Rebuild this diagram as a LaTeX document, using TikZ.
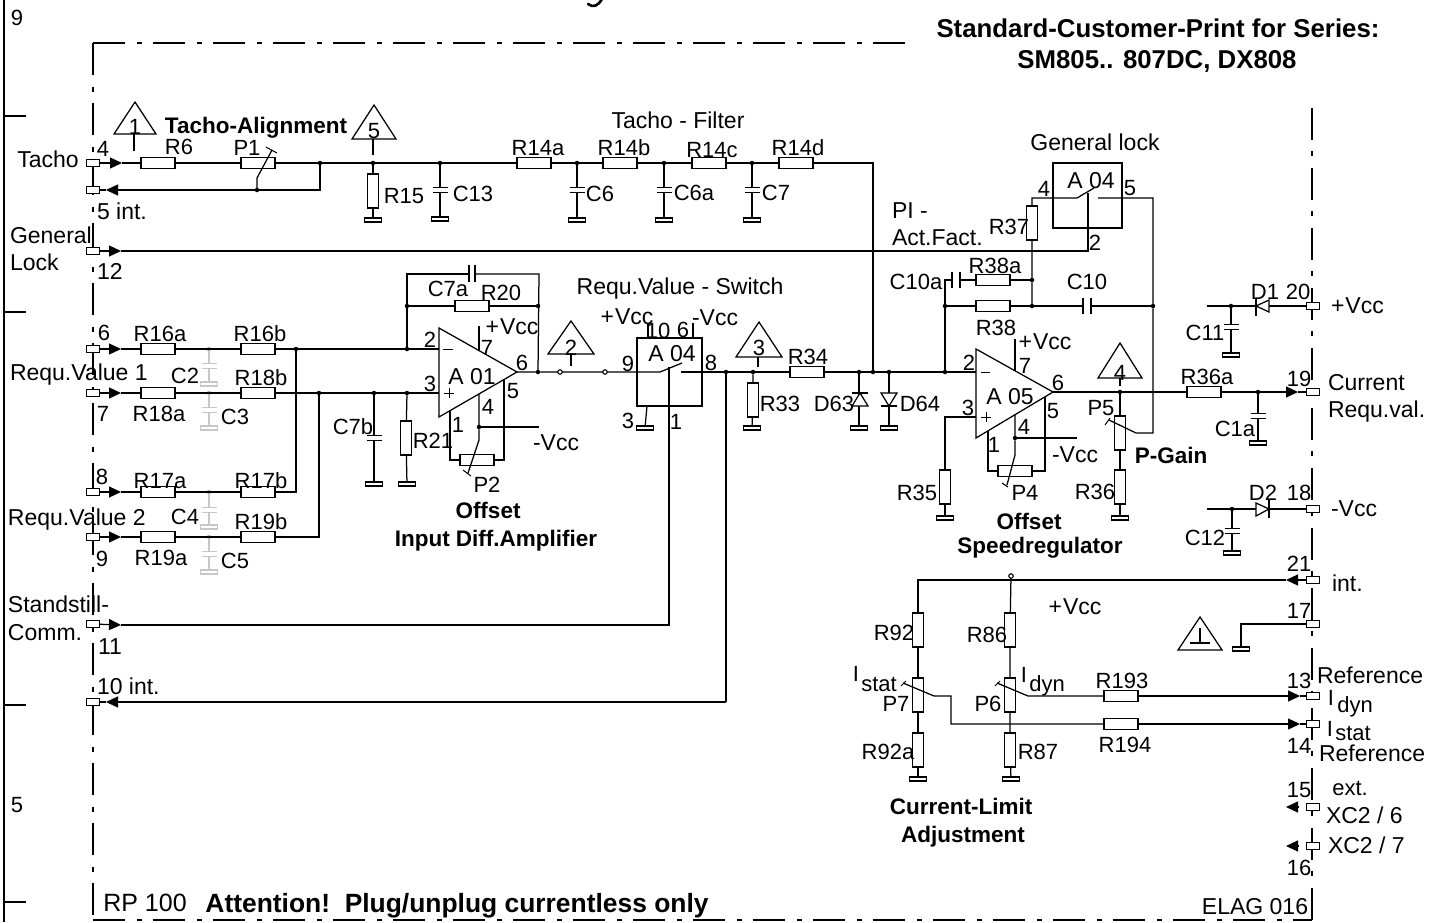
\documentclass[tikz,border=0pt]{standalone}
\usepackage{fontspec}
\setmainfont{Liberation Sans}
\usetikzlibrary{arrows.meta}
\newcount\lblcount
\tikzset{
  w/.style={line width=1.25pt,line join=miter},
  fr/.style={line width=1.1pt,dash pattern=on 32pt off 12pt on 5pt off 11pt},
  part/.style={draw,line width=1.1pt,fill=white,inner sep=0pt,outer sep=0pt,rectangle},
  rh/.style={part,minimum width=34pt,minimum height=11pt},
  rv/.style={part,minimum width=11pt,minimum height=34pt},
  term/.style={part,line width=1pt,minimum width=12.5pt,minimum height=6.5pt},
  gnd/.style={part,minimum width=17pt,minimum height=4pt},
  capgap/.style={rectangle,fill=white,inner sep=0pt,outer sep=0pt,minimum width=15pt,minimum height=5pt},
  capgaph/.style={rectangle,fill=white,inner sep=0pt,outer sep=0pt,minimum width=8pt,minimum height=16pt},
  jdot/.style={circle,fill=black,inner sep=0pt,outer sep=0pt,minimum size=4.5pt},
  jopen/.style={circle,draw,fill=white,line width=1.1pt,inner sep=0pt,outer sep=0pt,minimum size=4.5pt},
  box/.style={draw,line width=1.1pt,inner sep=0pt,outer sep=0pt,rectangle},
  lbl/.style={inner sep=0pt,outer sep=0pt,text height=15.5pt,text depth=0pt,font=\fontsize{22}{24}\selectfont},
  lblt/.style={lbl,font=\fontsize{23}{24}\selectfont},
  lblb/.style={lbl,font=\bfseries\fontsize{22.5}{24}\selectfont},
  tipin/.style={w,-{Triangle[length=12pt,width=11pt]}},
  grey/.style={draw=black!22,color=black!22},
}
\newcommand{\lbc}[3]{\global\advance\lblcount 1 \node[lbl] (txt\the\lblcount) at (#1,#2) {#3};}
\newcommand{\lbt}[3]{\global\advance\lblcount 1 \node[lblt] (txt\the\lblcount) at (#1,#2) {#3};}
\newcommand{\lbw}[3]{\global\advance\lblcount 1 \node[lblt,anchor=west] (txt\the\lblcount) at (#1,#2) {#3};}
\newcommand{\lbb}[3]{\global\advance\lblcount 1 \node[lblb] (txt\the\lblcount) at (#1,#2) {#3};}
\newcommand{\plates}[2][]{\draw[w,#1] (#2.north west)--(#2.north east) (#2.south west)--(#2.south east);}
\newcommand{\platesv}[1]{\draw[w] (#1.north west)--(#1.south west) (#1.north east)--(#1.south east);}
\begin{document}
\begin{tikzpicture}[x=1pt,y=-1pt]
\useasboundingbox (0,0) rectangle (1441,922);
\fill[white] (0,0) rectangle (1441,922);

% sheet border and ticks
\coordinate (sT) at (4,0); \coordinate (sB) at (4,922);
\draw[line width=1.2pt] (sT) -- (sB);
\foreach \n/\y in {a/116,b/312,c/705,d/902}{
  \coordinate (tk\n) at (4,\y); \coordinate (te\n) at (26,\y);
  \draw[line width=1.2pt] (tk\n) -- (te\n);}

% cropped stroke at the top edge
\coordinate (ya) at (602,-1); \coordinate (yb) at (594,7); \coordinate (yc) at (588,4);
\draw[line width=2.6pt,line cap=round] (ya) .. controls (598,6) and (593,8) .. (yc);

% dash-dot frame
\coordinate (fTL) at (93,43); \coordinate (fTR) at (908,43);
\coordinate (fBL) at (93,920); \coordinate (fBR) at (1312,920); \coordinate (fRT) at (1312,103);
\draw[fr] (fTL) -- (fTR);
\draw[fr] (fTL) -- (fBL);
\draw[fr] (fBL) -- (fBR);
\draw[fr] (fBR) -- (fRT);

% coordinates
\foreach \n/\x/\y in {
 aT/122/163, aR/106/190, aG/121/251, a6/121/349, a7/121/393, a8/121/492, a9/121/537,
 aS/121/625, aI/106/702,
 c320/320/190, cGl/1088/251, cGs/1088/193,
 b1L/1077/198, b1T/1094/188, b1R/1098/198, cR37/1032/198, c1153/1153/198, c1153b/1153/433, wP5a/1136/433, wP5b/1109/420,
 c945a/945/280, c945u/945/417, in3b/976/417, in2b/976/372,
 in2a/439/349, in3a/439/393,
 fbL/407/274, fbR/539/274,
 c7aL/469/274, c7aR/475/274,
 sw1/660/372, sw1T/682/363, sw1R/681/372, swP/669/367,
 sS/669/625, c726/726/702,
 cv10a/648/323, cv10b/648/338, cv6a/693/323, cv6b/693/338, cv3a/647/406,
 p7a/479/326, p7b/479/350.6, p4a/479/394, p4w/479/440, p4e/468/473, nVa/539/427,
 pin1a/450/410.6, pin1b/450/460, pin5b/504/379.5, pin5a/504/460,
 ampOa/517/372,
 q7a/1015/339, q7b/1015/371, q4a/1015/415, q4w/1015/455, q4e/1007/485, nVb/1077/438,
 qin1a/988/431, qin1b/988/471, qin5a/1045/397, qin5b/1045/471,
 ampOb/1053/392, aCur/1298/392,
 e1/1207/306, e2/1207/509,
 c92/918/580, a21/1286/580, c951a/951/696, c951b/951/724, w7a/903/683, w7b/934/696,
 w6a/997/683, w6b/1028/696, a13/1300/696, a14/1300/724,
 c1241/1241/624, a15/1286/807, a15b/1299/807, a16/1286/846, a16b/1299/846}
 {\coordinate (\n) at (\x,\y);}

% horizontal resistors
\foreach \n/\x/\y in {R6/158/163,P1/258/163,R14a/534/163,R14b/620/163,R14c/709/163,R14d/796/163,
 R16a/158/349,R16b/258/349,R18a/158/393,R18b/258/393,R17a/158/492,R17b/258/492,R19a/158/537,R19b/258/537,
 R20/472/306,P2/477/460,R34/807/372,R38a/993/280,R38/993/306,P4/1015/471,R36a/1204/392,R193/1121/696,R194/1121/724}
 {\node[rh] (\n) at (\x,\y) {};}
% vertical resistors
\foreach \n/\x/\y in {R15/373/191,R21/406/438,R33/753/400,R37/1032/223,P5/1120/433,R36/1120/487,R35/945/487,
 R92/918/630,P7/918/695,R92a/918/750,R86/1010/630,P6/1010/695,R87/1010/750}
 {\node[rv] (\n) at (\x,\y) {};}
% terminals
\foreach \n/\x/\y in {t4/93/163,t5/93/190,t12/93/251,t6/93/349,t7/93/393,t8/93/492,t9/93/537,t11/93/624,t10/93/702,
 t20/1313/306,t19/1313/392,t18/1313/509,t21/1313/580,t17/1313/624,t13/1313/696,t14/1313/724,t15/1313/807,t16/1313/846}
 {\node[term] (\n) at (\x,\y) {};}
% grounds
\foreach \n/\x/\y in {g15/373/220,gC13/440/219,gC6/577/220,gC6a/664/220,gC7/752/220,gC7b/374/484,gR21/407/484,
 gS/645/428,gR33/752/428,gD63/859/428,gD64/889/428,gR35/945/518,gR36/1120/518,gC1a/1258/443,gC11/1231/355,gC12/1232/553,
 gR92/918/779,gR87/1011/779,g17/1241/649}
 {\node[gnd] (\n) at (\x,\y) {};}
\foreach \n/\x/\y in {gC2/209/384,gC3/209/428,gC4/209/527,gC5/209/572}
 {\node[gnd,draw=black!22] (\n) at (\x,\y) {};}
% capacitor gaps
\foreach \n/\x/\y in {C13/440/190,C6/577/190,C6a/664/190,C7/752/190,C7b/374/438,C1a/1258/416,C11/1231/327,C12/1232/531}
 {\node[capgap] (\n) at (\x,\y) {};}
\foreach \n/\x/\y in {C2/209/366,C3/209/410,C4/209/510,C5/209/554}
 {\node[capgap] (\n) at (\x,\y) {};}
\node[capgaph] (C10) at (1087,306) {};
\node[capgaph] (C10a) at (956,280) {};
% junctions
\foreach \n/\x/\y in {j320/320/163,j373/373/163,j440/440/163,j577/577/163,j664/664/163,j752/752/163,j257/257/190,
 j296/296/349,j407/407/349,j319/319/393,j374/374/393,j407b/407/393,j407t/407/306,j538t/538/306,j538/538/372,
 j479/479/427,j727/726/372,j753/753/372,j859/859/372,j873/873/372,j890/889/372,j945/945/372,
 j945t/945/306,j1032a/1032/280,j1032b/1032/306,j1153/1153/306,j1016/1015/438,j1120/1120/392,j1258/1258/392,
 j1231/1231/306,j1232/1232/509}
 {\node[jdot] (\n) at (\x,\y) {};}
\foreach \n/\x/\y in {o560/560/372,o605/605/372,oV/1011/576}
 {\node[jopen] (\n) at (\x,\y) {};}
% grey junctions
\foreach \n/\x/\y in {k2/209/349,k3/209/393,k4/209/492,k5/209/537}
 {\node[circle,fill=black!30,inner sep=0pt,minimum size=4.5pt] (\n) at (\x,\y) {};}

% grey capacitors
\foreach \j/\c/\g in {k2/C2/gC2,k3/C3/gC3,k4/C4/gC4,k5/C5/gC5}{
  \draw[w,grey] (\j) -- (\c) -- (\g);
  \plates[grey]{\c}
}

% tacho line
\draw[tipin] (t4) -- (aT);
\draw[w] (aT) -- (R6) -- (P1) -- (j320) -- (j373) -- (j440) -- (R14a) -- (j577)
 (j577) -- (R14b) -- (j664) -- (R14c) -- (j752) -- (R14d);
\draw[w] (R14d) -| (j873);
\draw[w] (j320) |- (j257);
\draw[tipin] (j257) -- (aR);
\draw[w] (aR) -- (t5);
\draw[w] (j373) -- (R15) -- (g15);
\foreach \j/\c/\g in {j440/C13/gC13,j577/C6/gC6,j664/C6a/gC6a,j752/C7/gC7}{
  \draw[w] (\j) -- (\c) -- (\g);
  \plates{\c}
}
% P1 wiper
\coordinate (wP1a) at (257,178); \coordinate (wP1b) at (272,150);
\draw[w] (j257) -- (wP1a) -- (wP1b);
\coordinate (cp1a) at (266,147); \coordinate (cp1b) at (277,153);
\draw[w,line width=1pt] (cp1a) -- (cp1b);

% general lock
\draw[tipin] (t12) -- (aG);
\draw[w] (aG) -- (cGl) -- (cGs);

% requ inputs
\foreach \t/\a/\ra/\rb in {t6/a6/R16a/R16b,t7/a7/R18a/R18b,t8/a8/R17a/R17b,t9/a9/R19a/R19b}{
  \draw[tipin] (\t) -- (\a);
  \draw[w] (\a) -- (\ra) -- (\rb);
}
\draw[w] (R16b) -- (j296) -- (j407) -- (in2a);
\draw[w] (R18b) -- (j319) -- (j374) -- (j407b) -- (in3a);
\draw[w] (R17b) -| (j296);
\draw[w] (R19b) -| (j319);
% C7b, R21
\draw[w] (j374) -- (C7b) -- (gC7b); \plates{C7b}
\draw[w] (j407b) -- (R21) -- (gR21);
% amp A01
\coordinate (A1a) at (439,328); \coordinate (A1b) at (439,417); \coordinate (A1c) at (517,372);
\draw[w] (A1a) -- (A1b) -- (A1c) -- cycle;
\draw[w] (p7a) -- (p7b);
\draw[w] (p4a) -- (j479) -- (p4w) -- (p4e);
\coordinate (cp2a) at (463,470); \coordinate (cp2b) at (471,476);
\draw[w,line width=1pt] (cp2a) -- (cp2b);
\draw[w] (j479) -- (nVa);
\draw[w] (pin1a) -- (pin1b) -- (P2) -- (pin5a) -- (pin5b);
% feedback
\draw[w] (j407) -- (j407t) -- (fbL) -- (c7aL);
\draw[w] (c7aR) -- (fbR) -- (j538);
\draw[w] (j407t) -- (R20) -- (j538t);
\coordinate (pl1a) at (469,265); \coordinate (pl1b) at (469,282); \coordinate (pl2a) at (475,265); \coordinate (pl2b) at (475,282);
\draw[w] (pl1a) -- (pl1b); \draw[w] (pl2a) -- (pl2b);
\draw[w] (ampOa) -- (j538) -- (o560) -- (o605) -- (sw1) -- (sw1T);
% switch A04
\node[box,minimum width=65pt,minimum height=68pt] (SW1) at (669.5,372) {};
\draw[w] (cv10a) -- (cv10b); \draw[w] (cv6a) -- (cv6b);
\draw[w] (cv3a) -- (gS);
\draw[w] (sw1R) -- (j727) -- (j753) -- (R34) -- (j859) -- (j873) -- (j890) -- (j945) -- (in2b);
\draw[w] (j753) -- (R33) -- (gR33);
\draw[w] (j727) -- (c726);
\draw[tipin] (c726) -- (aI);
\draw[w] (aI) -- (t10);
\draw[tipin] (t11) -- (aS);
\draw[w] (aS) -- (sS) -- (swP);
% diodes
\draw[w] (j859) -- (gD63);
\coordinate (d63a) at (860,393); \coordinate (d63b) at (868,406); \coordinate (d63c) at (852,406);
\coordinate (d63d) at (852,393); \coordinate (d63e) at (868,393);
\draw[w,fill=white] (d63a) -- (d63b) -- (d63c) -- cycle; \draw[w] (d63d) -- (d63e);
\draw[w] (j890) -- (gD64);
\coordinate (d64a) at (889,406); \coordinate (d64b) at (881,393); \coordinate (d64c) at (897,393);
\coordinate (d64d) at (881,406); \coordinate (d64e) at (897,406);
\draw[w,fill=white] (d64a) -- (d64b) -- (d64c) -- cycle; \draw[w] (d64d) -- (d64e);

% amp A05
\coordinate (A5a) at (976,349); \coordinate (A5b) at (976,438); \coordinate (A5c) at (1053,392);
\draw[w] (A5a) -- (A5b) -- (A5c) -- cycle;
\draw[w] (j945) -- (j945t) -- (c945a) -- (C10a);
\platesv{C10a}
\draw[w] (C10a) -- (R38a) -- (j1032a);
\draw[w] (j945t) -- (R38) -- (j1032b) -- (C10); \platesv{C10}
\draw[w] (C10) -- (j1153);
\draw[w] (j1032b) -- (j1032a) -- (R37) -- (cR37) -- (b1L) -- (b1T);
\draw[w] (b1R) -- (c1153) -- (j1153) -- (c1153b) -- (wP5a) -- (wP5b);
\coordinate (cp5a) at (1105,425); \coordinate (cp5b) at (1110,418);
\draw[w,line width=1pt] (cp5a) -- (cp5b);
\node[box,minimum width=69pt,minimum height=65pt] (SW2) at (1087.5,195.5) {};
\draw[w] (in3b) -- (c945u) -- (R35) -- (gR35);
\draw[w] (q7a) -- (q7b);
\draw[w] (q4a) -- (j1016) -- (q4w) -- (q4e);
\coordinate (cp4a) at (1002,483); \coordinate (cp4b) at (1008,487);
\draw[w,line width=1pt] (cp4a) -- (cp4b);
\draw[w] (j1016) -- (nVb);
\draw[w] (qin1a) -- (qin1b) -- (P4) -- (qin5b) -- (qin5a);
% output
\draw[w] (ampOb) -- (j1120) -- (R36a) -- (j1258);
\draw[tipin] (j1258) -- (aCur);
\draw[w] (aCur) -- (t19);
\draw[w] (j1120) -- (P5) -- (R36) -- (gR36);
\draw[w] (j1258) -- (C1a) -- (gC1a); \plates{C1a}
% D1, C11
\draw[w] (e1) -- (j1231) -- (t20);
\draw[w] (j1231) -- (C11) -- (gC11); \plates{C11}
\coordinate (d1a) at (1256,306); \coordinate (d1b) at (1269,300); \coordinate (d1c) at (1269,312);
\coordinate (d1d) at (1256,298); \coordinate (d1e) at (1256,316);
\draw[w,fill=white] (d1a) -- (d1b) -- (d1c) -- cycle; \draw[w] (d1d) -- (d1e);
% D2, C12
\draw[w] (e2) -- (j1232) -- (t18);
\draw[w] (j1232) -- (C12) -- (gC12); \plates{C12}
\coordinate (d2a) at (1269,509); \coordinate (d2b) at (1256,503); \coordinate (d2c) at (1256,516);
\coordinate (d2d) at (1269,500); \coordinate (d2e) at (1269,518);
\draw[w,fill=white] (d2a) -- (d2b) -- (d2c) -- cycle; \draw[w] (d2d) -- (d2e);

% current limit
\draw[tipin] (t21) -- (a21);
\draw[w] (a21) -- (c92) -- (R92) -- (P7) -- (R92a) -- (gR92);
\draw[w] (oV) -- (R86) -- (P6) -- (R87) -- (gR87);
\draw[w] (w7a) -- (w7b) -- (c951a) -- (c951b) -- (R194);
\draw[tipin] (R194) -- (a14);
\draw[w] (a14) -- (t14);
\draw[w] (w6a) -- (w6b) -- (R193);
\draw[tipin] (R193) -- (a13);
\draw[w] (a13) -- (t13);
\coordinate (cp7a) at (901,686); \coordinate (cp7b) at (906,681);
\coordinate (cp6a) at (995,686); \coordinate (cp6b) at (1000,681);
\draw[w,line width=1pt] (cp7a) -- (cp7b); \draw[w,line width=1pt] (cp6a) -- (cp6b);
\draw[w] (t17) -- (c1241) -- (g17);
\draw[tipin] (a15b) -- (a15);
\draw[tipin] (a16b) -- (a16);

% warning triangles
\foreach \x/\y/\b/\h/\d in {135/102/134/21/0,374/105/139/22/0,571/321/354/23/0,759/322/357/23/0,1120/343/378/22/0,1200/617/650/22/0}{
  \coordinate (ta\x) at (\x,\y); \coordinate (tb\x) at (\x-\h,\b); \coordinate (tc\x) at (\x+\h,\b);
  \draw[w] (ta\x) -- (tb\x) -- (tc\x) -- cycle;
}
\foreach \n/\x/\ya/\yb in {a/134/134/151,b/373/139/155,c/571/354/366,d/758/357/367,e/1120/378/386,f/1200/628/643}{
  \coordinate (ts\n) at (\x,\ya); \coordinate (tf\n) at (\x,\yb);
  \draw[w] (ts\n) -- (tf\n);
}
\coordinate (gnda) at (1190,643); \coordinate (gndb) at (1210,643);
\draw[w] (gnda) -- (gndb);

% op-amp signs
\coordinate (ma) at (443,349); \coordinate (mb) at (453,349); \draw[w,line width=1pt] (ma) -- (mb);
\coordinate (mc) at (981,372); \coordinate (md) at (990,372); \draw[w,line width=1pt] (mc) -- (md);
\coordinate (pa) at (444,393); \coordinate (pb) at (454,393); \coordinate (pc) at (449,388); \coordinate (pd) at (449,398);
\draw[line width=1pt] (pa) -- (pb); \draw[line width=1pt] (pc) -- (pd);
\coordinate (qa) at (981,417); \coordinate (qb) at (991,417); \coordinate (qc) at (986,412); \coordinate (qd) at (986,422);
\draw[line width=1pt] (qa) -- (qb); \draw[line width=1pt] (qc) -- (qd);

% labels
\lbc{17}{18}{9}
\lbc{17}{805}{5}
\lbb{1158}{29.5}{\fontsize{25.8}{26}\selectfont Standard-Customer-Print for Series:}
\lbb{1157}{60.5}{\fontsize{25.8}{26}\selectfont SM805.. 807DC, DX808}
\lbt{48}{160}{Tacho}
\lbc{103}{149}{4}
\lbw{97}{212}{5 int.}
\lbw{10}{236}{General}
\lbw{10}{263}{Lock}
\lbw{97}{272}{12}
\lbc{135}{127}{1}
\lbc{179}{147}{R6}
\lbc{247}{148}{P1}
\lbb{256}{126}{Tacho-Alignment}
\lbc{374}{131}{5}
\lbc{404}{196}{R15}
\lbc{473}{194}{C13}
\lbt{678}{121}{Tacho - Filter}
\lbc{538}{148}{R14a}
\lbc{624}{148}{R14b}
\lbc{712}{150}{R14c}
\lbc{798}{148}{R14d}
\lbc{600}{194}{C6}
\lbc{694}{193}{C6a}
\lbc{776}{193}{C7}
\lbc{104}{333}{6}
\lbc{160}{334}{R16a}
\lbc{260}{334}{R16b}
\lbw{10}{373}{Requ.Value 1}
\lbc{185}{376}{C2}
\lbc{261}{378}{R18b}
\lbc{103}{414}{7}
\lbc{159}{414}{R18a}
\lbc{235}{417}{C3}
\lbc{102}{477}{8}
\lbc{160}{481}{R17a}
\lbc{261}{481}{R17b}
\lbw{8}{518}{Requ.Value 2}
\lbc{185}{517}{C4}
\lbc{261}{522}{R19b}
\lbc{102}{559}{9}
\lbc{161}{558}{R19a}
\lbc{235}{561}{C5}
\lbc{353}{427}{C7b}
\lbc{433}{441}{R21}
\lbc{448}{289}{C7a}
\lbc{501}{293}{R20}
\lbc{430}{340}{2}
\lbc{430}{384}{3}
\lbt{472}{377}{A 01}
\lbc{487}{348}{7}
\lbt{512}{327}{+\kern1pt Vcc}
\lbc{522}{363}{6}
\lbc{513}{391}{5}
\lbc{488}{407}{4}
\lbc{458}{425}{1}
\lbt{556}{443}{-Vcc}
\lbc{487}{485}{P2}
\lbb{488}{511}{Offset}
\lbb{496}{539}{Input Diff.Amplifier}
\lbc{571}{348}{2}
\lbt{680}{287}{Requ.Value - Switch}
\lbt{627}{317}{+\kern1pt Vcc}
\lbt{715}{318}{-Vcc}
\lbc{658}{331}{10}
\lbc{683}{330}{6}
\lbt{672}{354}{A 04}
\lbc{628}{364}{9}
\lbc{711}{363}{8}
\lbc{628}{421}{3}
\lbc{676}{422}{1}
\lbc{759}{348}{3}
\lbc{780}{404}{R33}
\lbc{808}{357}{R34}
\lbc{834}{404}{D63}
\lbc{920}{404}{D64}
\lbw{892}{211}{PI -}
\lbw{892}{238}{Act.Fact.}
\lbc{916}{282}{C10a}
\lbc{1009}{227}{R37}
\lbt{1095}{143}{General lock}
\lbt{1091}{181}{A 04}
\lbc{1044}{189}{4}
\lbc{1130}{188}{5}
\lbc{1095}{243}{2}
\lbc{995}{266}{R38a}
\lbc{996}{328}{R38}
\lbc{1087}{282}{C10}
\lbt{1045}{342}{+\kern1pt Vcc}
\lbc{969}{363}{2}
\lbc{968}{408}{3}
\lbt{1010}{397}{A 05}
\lbc{1058}{383}{6}
\lbc{1025}{366}{7}
\lbc{1053}{411}{5}
\lbc{1024}{427}{4}
\lbc{994}{445}{1}
\lbt{1075}{455}{-Vcc}
\lbc{1025}{493}{P4}
\lbc{917}{493}{R35}
\lbb{1029}{522}{Offset}
\lbb{1040}{546}{Speedregulator}
\lbc{1120}{373}{4}
\lbc{1101}{408}{P5}
\lbc{1095}{492}{R36}
\lbb{1171}{456}{P-Gain}
\lbc{1207}{377}{R36a}
\lbc{1235}{429}{C1a}
\lbc{1299}{379}{19}
\lbw{1328}{383}{Current}
\lbw{1328}{410}{Requ.val.}
\lbc{1205}{333}{C11}
\lbc{1265}{292}{D1}
\lbc{1298}{292}{20}
\lbw{1331}{306}{+\kern1pt Vcc}
\lbc{1205}{538}{C12}
\lbc{1263}{493}{D2}
\lbc{1299}{493}{18}
\lbw{1331}{509}{-Vcc}
\lbc{1299}{564}{21}
\lbw{1332}{584}{int.}
\lbc{1299}{611}{17}
\lbt{1075}{607}{+\kern1pt Vcc}
\lbc{894}{633}{R92}
\lbc{987}{635}{R86}
\lbc{856}{674}{I}
\lbc{879}{684}{stat}
\lbc{896}{704}{P7}
\lbc{988}{704}{P6}
\lbc{1024}{675}{I}
\lbc{1047}{684}{dyn}
\lbc{1122}{681}{R193}
\lbc{1299}{681}{13}
\lbw{1317}{676}{Reference}
\lbc{1331}{698}{I}
\lbc{1355}{705}{dyn}
\lbc{1330}{729}{I}
\lbc{1353}{733}{stat}
\lbc{1299}{746}{14}
\lbw{1319}{754}{Reference}
\lbc{1125}{745}{R194}
\lbc{888}{752}{R92a}
\lbc{1038}{752}{R87}
\lbc{1299}{790}{15}
\lbc{1350}{788}{ext.}
\lbw{1326}{816}{XC2 / 6}
\lbw{1328}{846}{XC2 / 7}
\lbc{1299}{868}{16}
\lbt{1255}{907}{ELAG 016}
\lbb{961}{807}{Current-Limit}
\lbb{963}{835}{Adjustment}
\lbw{8}{605}{Standstill-}
\lbw{8}{633}{Comm.}
\lbw{98}{647}{11}
\lbw{97}{687}{10 int.}
\lbc{145}{904}{\fontsize{25}{26}\selectfont RP 100}
\lbb{457}{905}{\fontsize{26.4}{28}\selectfont Attention!\ \ Plug/unplug currentless only}
\end{tikzpicture}
\end{document}
